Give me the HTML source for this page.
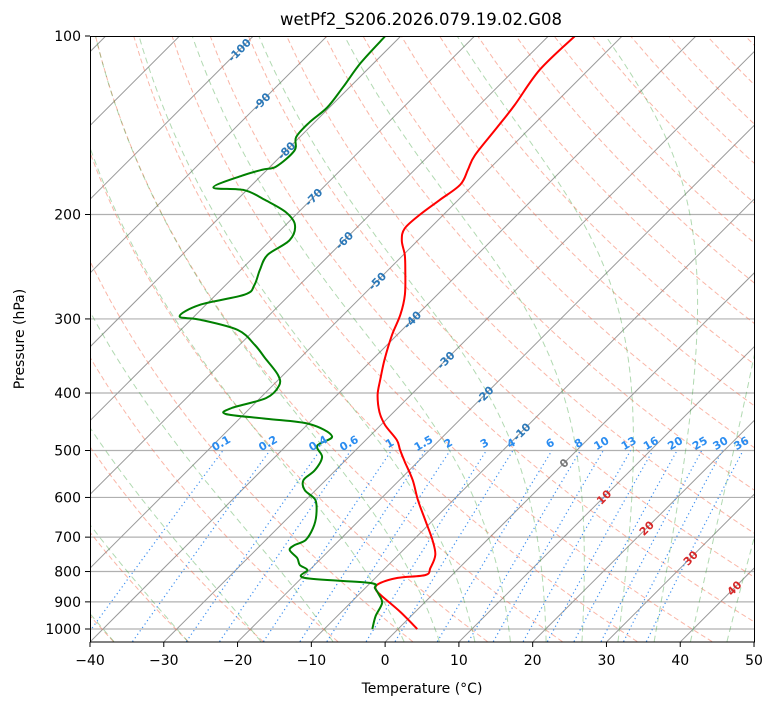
<!DOCTYPE html>
<html><head><meta charset="utf-8"><style>
html,body{margin:0;padding:0;background:#fff;}
svg{display:block;font-family:"DejaVu Sans","Liberation Sans",sans-serif;}
</style></head><body>
<svg id="chart" width="775" height="708" viewBox="0 0 775 708">
<defs><clipPath id="clip"><rect x="90" y="36" width="664" height="606"/></clipPath></defs>
<rect x="0" y="0" width="775" height="708" fill="#fff"/>
<g id="bg" clip-path="url(#clip)"></g>
<g id="profiles" clip-path="url(#clip)"></g>
<g id="labels"></g>
<rect x="90.5" y="36.5" width="664" height="605.5" fill="none" stroke="#000" stroke-width="1"/>
<g id="axes"></g>
<text x="421" y="25" font-size="16.5" text-anchor="middle" fill="#000">wetPf2_S206.2026.079.19.02.G08</text>
<text x="422" y="693" font-size="14" text-anchor="middle" fill="#000">Temperature (°C)</text>
<text x="24" y="339" font-size="14" text-anchor="middle" fill="#000" transform="rotate(-90 24 339)">Pressure (hPa)</text>
</svg>
<script>
const tempP = [1000,936,883,859,840,820,811,789,750,708,655,606,561,523,499,480,453,431,403,380,352,319,295,273,248,234,221,211,200,189,178,168,159,144,131,114,100];
const tempT = [2.6,-2.0,-6.4,-8.3,-8.8,-7.0,-3.6,-3.9,-5.0,-7.4,-11.1,-14.8,-18.2,-21.7,-24.0,-25.8,-29.4,-31.9,-34.5,-36.2,-38.3,-40.7,-42.3,-44.4,-47.7,-49.8,-52.2,-53.4,-53.2,-52.5,-51.8,-52.8,-53.8,-54.5,-55.2,-56.6,-56.4];
const dewP = [1000,951,904,873,853,836,820,795,780,759,736,722,708,676,643,606,583,561,540,513,491,473,451,442,434,424,408,389,373,349,332,313,301,297,284,273,263,248,234,221,208,198,189,182,180,172,168,166,156,148,140,132,122,111,100];
const dewT = [-3.5,-4.8,-5.7,-7.4,-8.7,-10.1,-19.6,-20.3,-22.0,-23.3,-25.4,-25.4,-24.6,-25.2,-26.5,-28.7,-31.5,-33.0,-32.8,-33.6,-35.8,-35.1,-39.9,-46.4,-52.5,-52.5,-49.2,-49.1,-50.7,-54.8,-57.9,-62.3,-68.7,-72.0,-70.8,-66.1,-66.1,-67.4,-68.4,-67.4,-68.8,-71.8,-76.2,-80.3,-84.9,-82.6,-80.6,-79.2,-78.9,-80.5,-80.7,-80.3,-80.9,-81.8,-82.1];
const xTicks = [-40,-30,-20,-10,0,10,20,30,40,50];
const pTicks = [100,200,300,400,500,600,700,800,900,1000];
const mixRatios = [0.1,0.2,0.4,0.6,1,1.5,2,3,4,6,8,10,13,16,20,25,30,36];
const isoLabels = [-100,-90,-80,-70,-60,-50,-40,-30,-20,-10,0,10,20,30,40];
const isoLabelP = [105.6,129,156,187,221,259,301,352,403,465,525,599,676,759,853];

const NS='http://www.w3.org/2000/svg';
const X0=90, PXC=7.378, YB=642, Y0=36, PY=593, SK=1.0;
function yOf(p){return Y0+PY*Math.log10(p/100);}
function xOf(t,p){return X0+(t+40)*PXC+(YB-yOf(p))*SK;}
function mk(tag,attrs,parent){const e=document.createElementNS(NS,tag);for(const k in attrs)e.setAttribute(k,attrs[k]);parent.appendChild(e);return e;}
function pathD(ts,ps){return ts.map((t,i)=>(i?'L':'M')+xOf(t,ps[i]).toFixed(1)+' '+yOf(ps[i]).toFixed(1)).join(' ');}
function smoothD(ts,ps){const pts=ts.map((t,i)=>[xOf(t,ps[i]),yOf(ps[i])]);let d='M'+pts[0][0].toFixed(1)+' '+pts[0][1].toFixed(1);
 for(let i=0;i<pts.length-1;i++){const p0=pts[Math.max(0,i-1)],p1=pts[i],p2=pts[i+1],p3=pts[Math.min(pts.length-1,i+2)];
 const c1=[p1[0]+(p2[0]-p0[0])/6,p1[1]+(p2[1]-p0[1])/6],c2=[p2[0]-(p3[0]-p1[0])/6,p2[1]-(p3[1]-p1[1])/6];
 d+=' C'+c1[0].toFixed(1)+' '+c1[1].toFixed(1)+' '+c2[0].toFixed(1)+' '+c2[1].toFixed(1)+' '+p2[0].toFixed(1)+' '+p2[1].toFixed(1);}
 return d;}
const bg=document.getElementById('bg'), prof=document.getElementById('profiles'), lab=document.getElementById('labels'), ax=document.getElementById('axes');

pTicks.forEach(p=>{const l=mk('line',{x1:90,x2:754,y1:yOf(p),y2:yOf(p),stroke:'#b0b0b0','stroke-width':1.2},bg);

});
for(let t=-160;t<=50;t+=10){const l=mk('line',{x1:xOf(t,1050),y1:yOf(1050),x2:xOf(t,100),y2:yOf(100),stroke:'#999','stroke-width':1},bg);

}
for(let th=213;th<=533;th+=10){const ps=[],ts=[];for(let p=1050;p>=100;p-=10){ps.push(p);ts.push(th*Math.pow(p/1000,0.2857)-273.15);}
const e=mk('path',{d:pathD(ts,ps),fill:'none',stroke:'rgba(245,110,80,0.5)','stroke-width':1,'stroke-dasharray':'5,3'},bg);

}
function es(tc){return 6.112*Math.exp(17.67*tc/(tc+243.5));}
function moist(t0){const ps=[],ts=[];let T=t0+273.15;const Rd=287.04,Cp=1005.7,Lv=2.501e6,eps=0.622;
 let p=1000;function grad(p,T){const e=es(T-273.15);const rs=eps*e/(p-e);return (Rd*T+Lv*rs)/(Cp+Lv*Lv*rs*eps/(Rd*T*T))/p;}
 let Td=T; let pd=1000; while(pd<1050){const dp=5;Td+=grad(pd,Td)*dp;pd+=dp;}
 ps.push(1050);ts.push(Td-273.15);
 let Tc=Td;p=1050;
 while(p>100){const dp=-5;const k1=grad(p,Tc);const k2=grad(p+dp/2,Tc+k1*dp/2);Tc+=k2*dp;p+=dp;ps.push(p);ts.push(Tc-273.15);}
 return [ts,ps];}
[-50,-40,-30,-20,-10,0,5,10,15,20,25,30,35,40,45].forEach(t0=>{const [ts,ps]=moist(t0);
const e=mk('path',{d:pathD(ts,ps),fill:'none',stroke:'rgba(60,160,60,0.4)','stroke-width':1,'stroke-dasharray':'6,4'},bg);

});
function tdOf(w,p){const e=w*p/(622+w);const l=Math.log(e/6.112);return 243.5*l/(17.67-l);}
mixRatios.forEach(w=>{const ps=[],ts=[];for(let p=1050;p>=500;p-=10){ps.push(p);ts.push(tdOf(w,p));}
const e=mk('path',{d:pathD(ts,ps),fill:'none',stroke:'#3d8ff0','stroke-width':1.2,'stroke-dasharray':'1.2,3'},bg);


const x=xOf(tdOf(w,500),500), y=yOf(500)-4;
const t=mk('text',{x:x,y:y,'font-size':11,'font-weight':'bold',fill:'#2a8cf0','text-anchor':'middle',transform:'rotate(-30 '+x+' '+y+')'},lab);
t.textContent=String(w);

});
isoLabels.forEach((v,i)=>{const p=isoLabelP[i];const x=xOf(v,p),y=yOf(p)+4;
const col=v<0?'#2b78b8':(v===0?'#777':'#d62728');
const t=mk('text',{x:x,y:y,'font-size':11,'font-weight':'bold',fill:col,'text-anchor':'middle',transform:'rotate(-45 '+x+' '+(y-4)+')'},lab);
t.textContent=String(v);

});
const tl=mk('path',{d:smoothD(tempT,tempP),fill:'none',stroke:'#ff0000','stroke-width':2,'stroke-linejoin':'round'},prof);


const dl=mk('path',{d:smoothD(dewT,dewP),fill:'none',stroke:'#008000','stroke-width':2,'stroke-linejoin':'round'},prof);


xTicks.forEach(t=>{const x=X0+(t+40)*PXC;
const l=mk('line',{x1:x,x2:x,y1:642,y2:647,stroke:'#000','stroke-width':1},ax);


const tx=mk('text',{x:x,y:665,'font-size':14,'text-anchor':'middle',fill:'#000'},ax);
tx.textContent=t<0?'\u2212'+(-t):String(t);

});
pTicks.forEach(p=>{const y=yOf(p);
const l=mk('line',{x1:85,x2:90,y1:y,y2:y,stroke:'#000','stroke-width':1},ax);


const tx=mk('text',{x:81,y:y+5,'font-size':14,'text-anchor':'end',fill:'#000'},ax);
tx.textContent=String(p);

});
</script>
</body></html>
